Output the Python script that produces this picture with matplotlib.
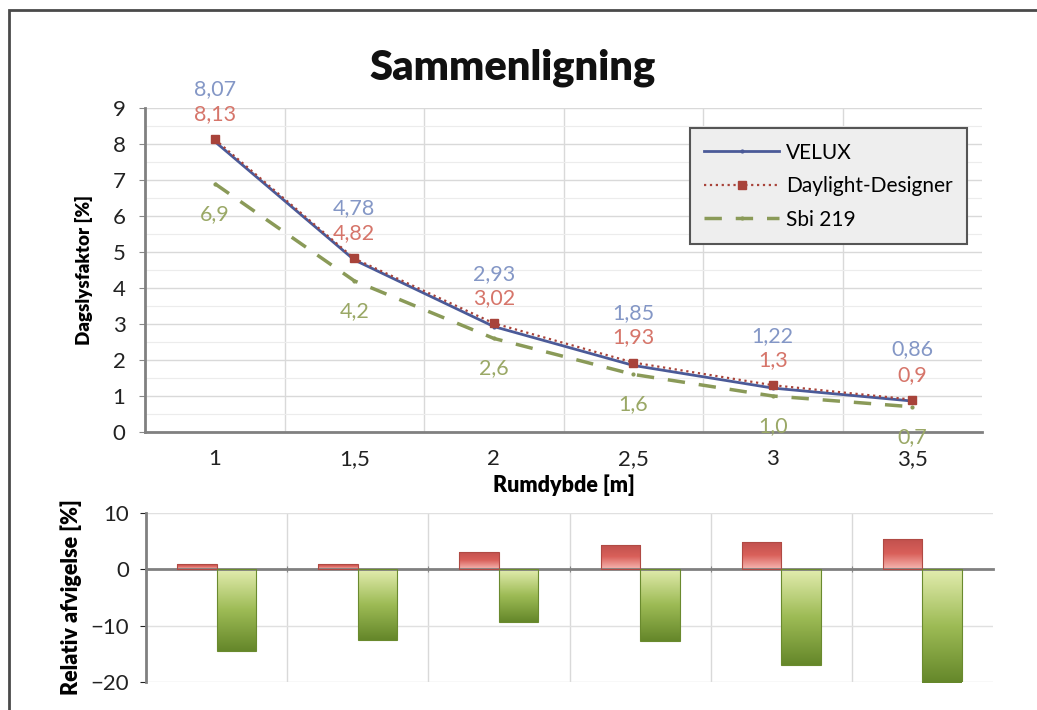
import numpy as np
import matplotlib
matplotlib.use('Agg')
import matplotlib.pyplot as plt
from matplotlib.colors import LinearSegmentedColormap
from matplotlib.patches import Rectangle

plt.rcParams['font.family'] = ['Lato', 'DejaVu Sans']

# Data
x_labels = ['1', '1,5', '2', '2,5', '3', '3,5']
velux = [8.07, 4.78, 2.93, 1.85, 1.22, 0.86]
designer = [8.13, 4.82, 3.02, 1.93, 1.3, 0.9]
sbi = [6.9, 4.2, 2.6, 1.6, 1.0, 0.7]
dev_designer = [1.0, 1.0, 3.1, 4.4, 4.9, 5.4]
dev_sbi = [-14.5, -12.5, -9.3, -12.8, -17.0, -20.2]

x = np.arange(len(x_labels))

fig = plt.figure(figsize=(10.37, 7.10), dpi=100)

# outer frame (only top and left visible in the reference)
fig.patches.append(Rectangle((9 / 1037, -0.1), 1.2, 1.1 - 10 / 710,
                             transform=fig.transFigure, fill=False,
                             edgecolor='#4a4a4a', linewidth=2))

# ---------- top chart ----------
ax = fig.add_axes([145 / 1037, 1 - 432 / 710, 837 / 1037, 324 / 710])
ax.plot(x, velux, color='#4b5a98', linewidth=2, marker='.', markersize=4, label='VELUX', zorder=4)
ax.plot(x, designer, color='#a8433a', linewidth=1.6, linestyle=':', marker='s', markersize=6,
        label='Daylight-Designer', zorder=5)
ax.plot(x, sbi, color='#8a9a58', linewidth=2.5, linestyle=(0, (5, 4)), marker='.', markersize=4,
        label='Sbi 219', zorder=3)

fmt = lambda v: ('%g' % v).replace('.', ',')
for xi, v in zip(x, velux):
    ax.annotate(fmt(v), (xi, v), xytext=(0, 52), textcoords='offset pixels',
                ha='center', va='center', fontsize=15.5, color='#8497c6')
for xi, v in zip(x, designer):
    ax.annotate(fmt(v), (xi, v), xytext=(0, 25), textcoords='offset pixels',
                ha='center', va='center', fontsize=15.5, color='#d6756a')
for xi, v in zip(x, sbi):
    ax.annotate(('%.1f' % v).replace('.', ','), (xi, v), xytext=(0, -30), textcoords='offset pixels',
                ha='center', va='center', fontsize=15.5, color='#9aa866')

ax.set_xlim(-0.5, 5.5)
ax.set_ylim(0, 9)
ax.set_yticks(range(0, 10))
ax.set_yticks(np.arange(0.5, 9, 1), minor=True)
ax.set_xticks(x)
ax.set_xticklabels(x_labels)
ax.set_xticks(np.arange(0.5, 5, 1), minor=True)
ax.tick_params(axis='both', which='major', labelsize=16, colors='#222222')
ax.tick_params(axis='x', which='both', length=0, pad=12)
ax.tick_params(axis='y', which='major', length=4, color='#888888', pad=10)
ax.tick_params(axis='y', which='minor', length=0)
ax.grid(axis='y', which='major', color='#d9d9d9', linewidth=1)
ax.grid(axis='y', which='minor', color='#ececec', linewidth=0.8)
ax.grid(axis='x', which='minor', color='#d9d9d9', linewidth=1)
ax.set_axisbelow(True)
for s in ['top', 'right']:
    ax.spines[s].set_visible(False)
for s in ['left', 'bottom']:
    ax.spines[s].set_color('#808080')
    ax.spines[s].set_linewidth(2)

ax.set_ylabel('Dagslysfaktor [%]', fontsize=13.5, fontweight='heavy', labelpad=14)
ax.set_xlabel('Rumdybde [m]', fontsize=15.5, fontweight='heavy', labelpad=4)
fig.text(0.494, 1 - 68 / 710, 'Sammenligning', fontsize=30, fontweight='heavy',
         ha='center', va='center', color='#111111')

leg = ax.legend(loc='upper right', bbox_to_anchor=(0.982, 0.938), borderaxespad=0,
                fontsize=15, frameon=True, fancybox=False, edgecolor='#555555',
                facecolor='#eeeeee', framealpha=1, handlelength=3.6, labelspacing=0.65,
                borderpad=0.7, handletextpad=0.3)
leg.get_frame().set_linewidth(1.5)

# ---------- bottom chart ----------
bx = fig.add_axes([146 / 1037, 1 - 682 / 710, 847 / 1037, 169 / 710])
w = 0.28
red_bars = bx.bar(x - w / 2, dev_designer, width=w, color='none', edgecolor='#b04a44', linewidth=0.8, zorder=3)
green_bars = bx.bar(x + w / 2, dev_sbi, width=w, color='none', edgecolor='#6a8a2e', linewidth=0.8, zorder=3)

red_cmap = LinearSegmentedColormap.from_list('r', ['#f6b5b0', '#d9605a', '#c0504d'])
green_cmap = LinearSegmentedColormap.from_list('g', ['#e2ecae', '#9dbb55', '#65872a'])
grad = np.linspace(0, 1, 100).reshape(-1, 1)
for bars, cmap in [(red_bars, red_cmap), (green_bars, green_cmap)]:
    for b in bars:
        x0, y0 = b.get_x(), b.get_y()
        bw, bh = b.get_width(), b.get_height()
        lo, hi = min(y0, y0 + bh), max(y0, y0 + bh)
        # dark far from zero, light near zero
        g = grad if bh >= 0 else grad[::-1]
        im = bx.imshow(g, extent=[x0, x0 + bw, lo, hi], cmap=cmap, vmin=0, vmax=1,
                       aspect='auto', origin='lower', zorder=2)
        im.set_clip_path(b)

bx.set_xlim(-0.5, 5.5)
bx.set_ylim(-20, 10)
bx.set_yticks([-20, -10, 0, 10])
bx.set_xticks(np.arange(0.5, 5, 1))
bx.set_xticklabels([])
bx.tick_params(axis='x', length=4, color='#888888', direction='inout')
bx.tick_params(axis='y', labelsize=16, colors='#222222', length=4, pad=8)
bx.grid(axis='y', color='#e0e0e0', linewidth=1)
bx.grid(axis='x', color='#d9d9d9', linewidth=1)
bx.set_axisbelow(True)
bx.spines['bottom'].set_position(('data', 0))
for s in ['top', 'right']:
    bx.spines[s].set_visible(False)
for s in ['left', 'bottom']:
    bx.spines[s].set_color('#808080')
    bx.spines[s].set_linewidth(2)
bx.set_ylabel('Relativ afvigelse [%]', fontsize=15.5, fontweight='heavy', labelpad=6)

fig.savefig('out.png', dpi=100)
